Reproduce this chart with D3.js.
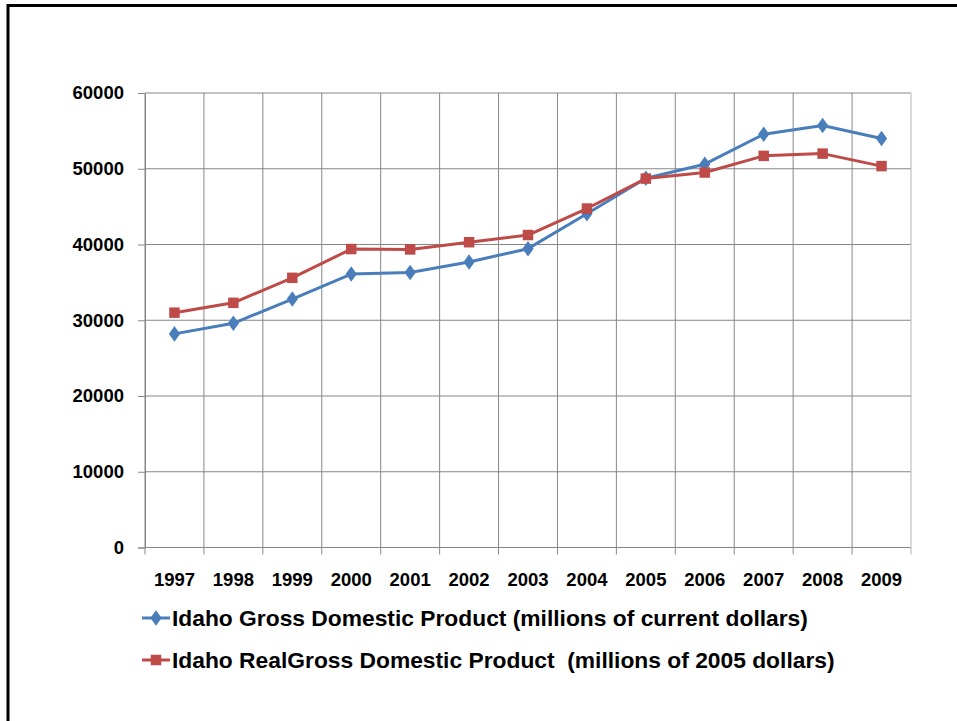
<!DOCTYPE html>
<html>
<head>
<meta charset="utf-8">
<script src="https://cdn.jsdelivr.net/npm/d3@7"></script>
<style>
  body { margin: 0; background: #fff; }
  svg { display: block; }
  text { font-family: "Liberation Sans", Arial, sans-serif; font-weight: bold; fill: #000; white-space: pre; }
</style>
</head>
<body>
<svg id="chart"></svg>
<script>
// Data
const years = ["1997", "1998", "1999", "2000", "2001", "2002", "2003", "2004", "2005", "2006", "2007", "2008", "2009"];
const gdpCurrent = [28200, 29600, 32800, 36100, 36300, 37700, 39450, 44050, 48750, 50600, 54550, 55700, 54000];
const gdpReal = [31000, 32300, 35600, 39400, 39350, 40300, 41250, 44750, 48700, 49500, 51700, 52000, 50350];
const yTicks = [0, 10000, 20000, 30000, 40000, 50000, 60000];
const seriesNames = [
    "Idaho Gross Domestic Product (millions of current dollars)",
    "Idaho RealGross Domestic Product  (millions of 2005 dollars)"
];

const width = 957, height = 721;
const plot = { left: 145, right: 911, top: 93, bottom: 547.5 };
const gridColor = "#878787";

const svg = d3.select("#chart")
    .attr("width", width)
    .attr("height", height);

// Frame (only top and left edges show)
svg.append("path")
    .attr("d", "M8," + height + "V5.5H" + width)
    .attr("fill", "none")
    .attr("stroke", "#000")
    .attr("stroke-width", 3);

const x = d3.scaleBand().domain(years).range([plot.left, plot.right]).padding(0);
const y = d3.scaleLinear().domain([0, 60000]).range([plot.bottom, plot.top]);
const cx = d => x(d) + x.bandwidth() / 2;

// Horizontal gridlines
svg.append("g")
    .selectAll("line")
    .data(yTicks)
    .enter()
    .append("line")
    .attr("x1", plot.left)
    .attr("x2", plot.right)
    .attr("y1", d => y(d))
    .attr("y2", d => y(d))
    .attr("stroke", gridColor)
    .attr("stroke-width", 1);

// Vertical gridlines at category boundaries, with tick marks below the axis
const bounds = years.map(d => x(d)).concat([plot.right]);
svg.append("g")
    .selectAll("line")
    .data(bounds)
    .enter()
    .append("line")
    .attr("x1", d => d)
    .attr("x2", d => d)
    .attr("y1", plot.top)
    .attr("y2", plot.bottom + 7)
    .attr("stroke", (d, i) => i === bounds.length - 1 ? "#b5b5b5" : gridColor)
    .attr("stroke-width", 1);

// Y axis
const yAxis = svg.append("g")
    .attr("transform", "translate(" + plot.left + ",0)")
    .call(d3.axisLeft(y).tickValues(yTicks).tickFormat(d3.format("d")).tickSize(7).tickPadding(14));
yAxis.select(".domain").attr("stroke", gridColor);
yAxis.selectAll(".tick line").attr("stroke", gridColor);
yAxis.selectAll("text").style("font-size", "18.5px").attr("fill", "#000");

// X axis labels
const xAxis = svg.append("g")
    .attr("transform", "translate(0," + plot.bottom + ")")
    .call(d3.axisBottom(x).tickSize(0).tickPadding(25));
xAxis.select(".domain").remove();
xAxis.selectAll("text").style("font-size", "18.5px").attr("fill", "#000");

// Series
const series = [
    { name: seriesNames[0], values: gdpCurrent, color: "#4A7EBB", symbol: d3.symbolDiamond, size: 70 },
    { name: seriesNames[1], values: gdpReal, color: "#BE4B48", symbol: d3.symbolSquare, size: 110 }
];

const line = d3.line()
    .x((d, i) => cx(years[i]))
    .y(d => y(d));

series.forEach(s => {
    svg.append("path")
        .datum(s.values)
        .attr("d", line)
        .attr("fill", "none")
        .attr("stroke", s.color)
        .attr("stroke-width", 3)
        .attr("stroke-linejoin", "round");

    svg.append("g")
        .selectAll("path")
        .data(s.values)
        .enter()
        .append("path")
        .attr("d", d3.symbol().type(s.symbol).size(s.size))
        .attr("transform", (d, i) => "translate(" + cx(years[i]) + "," + y(d) + ")" + (s.symbol === d3.symbolDiamond ? " scale(1.25,1)" : ""))
        .attr("fill", s.color);
});

// Legend
const legend = svg.append("g");
series.forEach((s, i) => {
    const ly = 618 + i * 42;
    legend.append("line")
        .attr("x1", 142).attr("x2", 170)
        .attr("y1", ly).attr("y2", ly)
        .attr("stroke", s.color)
        .attr("stroke-width", 3);
    legend.append("path")
        .attr("d", d3.symbol().type(s.symbol).size(s.size))
        .attr("transform", "translate(156," + ly + ")" + (s.symbol === d3.symbolDiamond ? " scale(1.25,1)" : ""))
        .attr("fill", s.color);
    legend.append("text")
        .attr("x", 172)
        .attr("y", ly)
        .attr("dy", "0.35em")
        .style("font-size", "22.8px")
        .text(s.name);
});
</script>
</body>
</html>
